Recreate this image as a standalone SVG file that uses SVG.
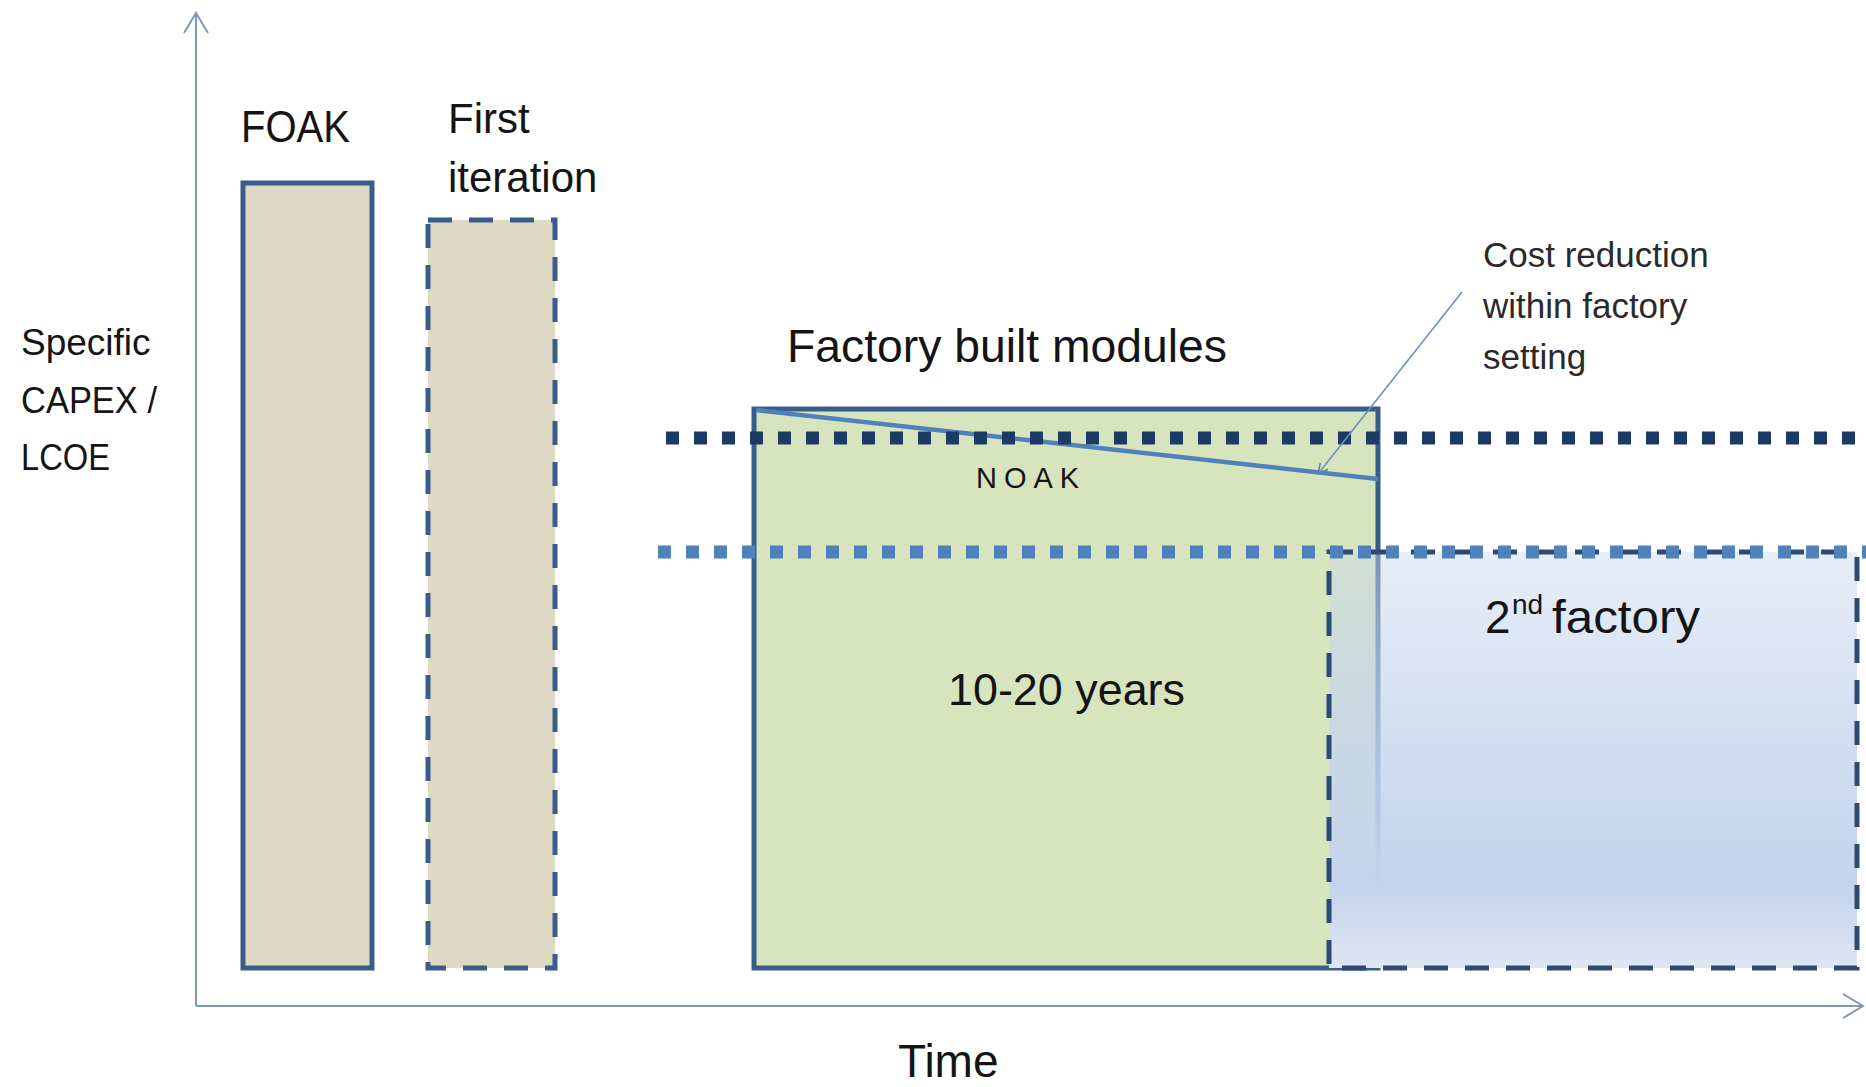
<svg xmlns="http://www.w3.org/2000/svg" width="1866" height="1087" viewBox="0 0 1866 1087">
  <style>
    .lbl { font-family: "Liberation Sans", Arial, sans-serif; fill: #141414; }
    .note { font-family: "Liberation Sans", Arial, sans-serif; fill: #2a2a2a; }
    .axis { stroke: #7f98ba; stroke-width: 2; fill: none; }
    .bar { fill: #ddd9c3; stroke: #385d8a; stroke-width: 5; }
    .dash { stroke-dasharray: 24 17; }
    .dots { stroke-width: 13; stroke-dasharray: 13 15; }
  </style>
  <defs>
    <linearGradient id="blueFade" x1="0" y1="0" x2="0" y2="1">
      <stop offset="0" stop-color="#c9d8ee" stop-opacity="0.45"/>
      <stop offset="0.45" stop-color="#c6d5ee" stop-opacity="0.8"/>
      <stop offset="0.8" stop-color="#c4d3ec" stop-opacity="1"/>
      <stop offset="1" stop-color="#dfe5f4" stop-opacity="1"/>
    </linearGradient>
    <marker id="openHead" viewBox="0 0 12 12" refX="11" refY="6" markerWidth="12" markerHeight="12" markerUnits="userSpaceOnUse" orient="auto">
      <path d="M1,1 L11,6 L1,11" fill="none" stroke="#5a7fb0" stroke-width="1.5"/>
    </marker>
  </defs>

  <rect width="1866" height="1087" fill="#ffffff"/>

  <!-- axes -->
  <g id="axes">
    <line class="axis" x1="196" y1="1006" x2="196" y2="13"/>
    <path class="axis" d="M184,33 L196,13 L208,33"/>
    <line class="axis" x1="196" y1="1006" x2="1863" y2="1006"/>
    <path class="axis" d="M1843,994 L1863,1006 L1843,1018"/>
  </g>

  <!-- first-of-a-kind bar -->
  <g id="foak">
    <rect class="bar" x="243" y="183" width="129" height="785"/>
    <text class="lbl" x="241" y="142" font-size="45" textLength="109" lengthAdjust="spacingAndGlyphs">FOAK</text>
  </g>

  <!-- first iteration bar -->
  <g id="first-iteration">
    <rect class="bar dash" x="428" y="220" width="127" height="748"/>
    <text class="lbl" x="448" y="133" font-size="42">First</text>
    <text class="lbl" x="448" y="192" font-size="42">iteration</text>
  </g>

  <!-- factory built modules block -->
  <g id="factory-modules">
    <rect x="754" y="409" width="624" height="559" fill="#d7e4bd" stroke="#385d8a" stroke-width="5"/>
    <line x1="756" y1="410" x2="1378" y2="479" stroke="#4f81bd" stroke-width="4.5"/>
    <text class="lbl" x="787" y="362" font-size="46" textLength="440" lengthAdjust="spacingAndGlyphs">Factory built modules</text>
    <text class="lbl" x="948" y="705" font-size="45" textLength="237" lengthAdjust="spacingAndGlyphs">10-20 years</text>
  </g>

  <!-- second factory block -->
  <g id="second-factory">
    <rect x="1329" y="552" width="528" height="416" fill="url(#blueFade)" stroke="#2c4a74" stroke-width="5" stroke-dasharray="24 17"/>
    <text class="lbl" font-size="46"><tspan x="1485" y="633">2</tspan><tspan x="1512" y="614" font-size="28">nd</tspan><tspan x="1552" y="633" textLength="148" lengthAdjust="spacingAndGlyphs">factory</tspan></text>
  </g>

  <!-- cost levels -->
  <g id="levels">
    <line class="dots" x1="666" y1="438" x2="1866" y2="438" stroke="#1b3a66"/>
    <line class="dots" x1="658" y1="552" x2="1866" y2="552" stroke="#4f81bd"/>
    <text class="lbl" x="976" y="488" font-size="29" letter-spacing="7">NOAK</text>
  </g>

  <!-- annotation -->
  <g id="connectors">
    <line x1="1462" y1="292" x2="1318" y2="474" stroke="#6f8fbf" stroke-width="1.6" marker-end="url(#openHead)"/>
  </g>
  <g id="cost-note">
    <text class="note" x="1483" y="267" font-size="35">Cost reduction</text>
    <text class="note" x="1483" y="318" font-size="35">within factory</text>
    <text class="note" x="1483" y="369" font-size="35">setting</text>
  </g>

  <!-- axis labels -->
  <g id="y-label">
    <text class="lbl" x="21" y="355" font-size="37">Specific</text>
    <text class="lbl" x="21" y="413" font-size="37" textLength="136" lengthAdjust="spacingAndGlyphs">CAPEX /</text>
    <text class="lbl" x="21" y="470" font-size="37" textLength="89" lengthAdjust="spacingAndGlyphs">LCOE</text>
  </g>
  <g id="x-label">
    <text class="lbl" x="898" y="1077" font-size="46">Time</text>
  </g>
</svg>
